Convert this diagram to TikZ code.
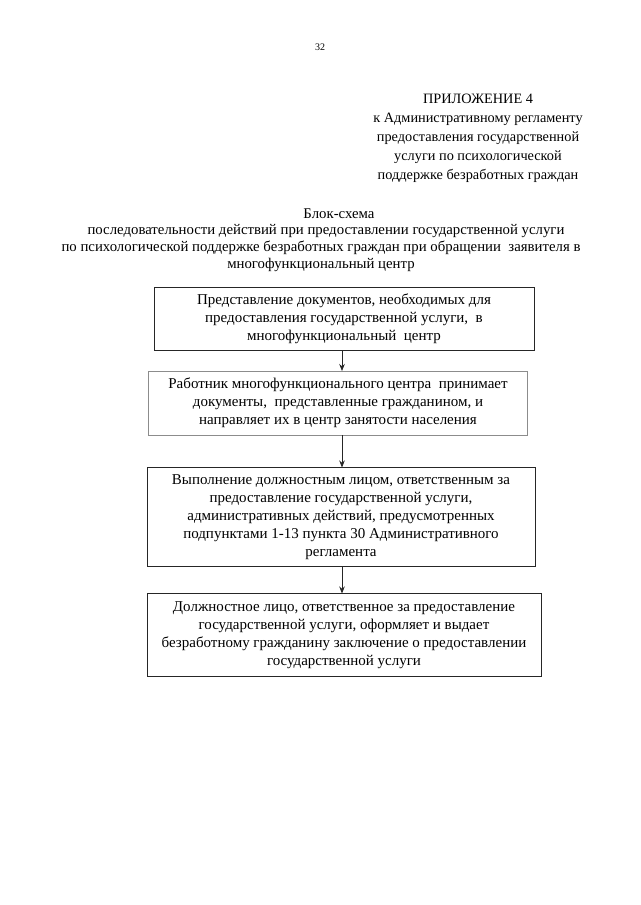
\documentclass[tikz,border=0pt]{standalone}
\usepackage{fontspec}
\setmainfont{Liberation Serif}
\usetikzlibrary{arrows.meta}
\begin{document}
\begin{tikzpicture}[x=1pt,y=-1pt,
  every node/.style={inner sep=0pt, outer sep=0pt},
  hdr/.style={font=\fontsize{14.3}{19}\selectfont, align=center},
  ttl/.style={font=\fontsize{14.8}{17}\selectfont},
  stepbox/.style={draw=black!85, line width=0.8pt, align=center,
    font=\fontsize{15}{18}\selectfont},
  lightbox/.style={stepbox, draw=black!45},
  arr/.style={-{Stealth[length=7pt,width=5.5pt]}, line width=0.7pt, draw=black!85}]
\useasboundingbox (0,0) rectangle (640,905);
\fill[white] (0,0) rectangle (640,905);
\node[font=\fontsize{10}{12}\selectfont] (pg) at (320,47) {32};
\node[hdr, anchor=north] (app) at (478,94) {ПРИЛОЖЕНИЕ 4\\к Административному регламенту\\предоставления государственной\\услуги по психологической\\поддержке безработных граждан};
\node[ttl] (t1) at (339,214) {Блок-схема};
\node[ttl] (t2) at (326,231) {последовательности действий при предоставлении государственной услуги};
\node[ttl] (t3) at (321,248) {по психологической поддержке безработных граждан при обращении\ \ заявителя в};
\node[ttl] (t4) at (321,265) {многофункциональный центр};

\node[stepbox, minimum width=380pt, minimum height=63pt] (b1) at (344,319)
  {Представление документов, необходимых для\\предоставления государственной услуги,\ \ в\\многофункциональный\ \ центр};
\node[lightbox, minimum width=379pt, minimum height=64pt] (b2) at (338,403)
  {Работник многофункционального центра\ \ принимает\\документы,\ \ представленные гражданином, и\\направляет их в центр занятости населения};
\node[stepbox, minimum width=388pt, minimum height=99pt] (b3) at (341,517)
  {Выполнение должностным лицом, ответственным за\\предоставление государственной услуги,\\административных действий, предусмотренных\\подпунктами 1-13 пункта 30 Административного\\регламента};
\node[stepbox, minimum width=394pt, minimum height=83pt] (b4) at (344,635)
  {Должностное лицо, ответственное за предоставление\\государственной услуги, оформляет и выдает\\безработному гражданину заключение о предоставлении\\государственной услуги};

\coordinate (ax) at (342,0);
\draw[arr] (ax |- b1.south) -- (ax |- b2.north);
\draw[arr] (ax |- b2.south) -- (ax |- b3.north);
\draw[arr] (ax |- b3.south) -- (ax |- b4.north);
\end{tikzpicture}
\end{document}
